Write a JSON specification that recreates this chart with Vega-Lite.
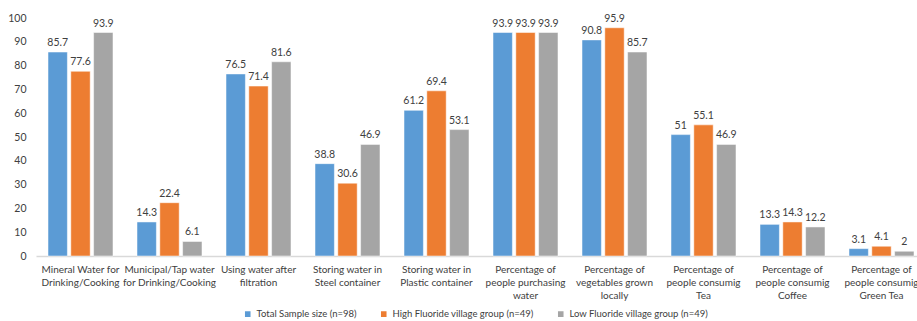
{
  "$schema": "https://vega.github.io/schema/vega-lite/v6.json",
  "width": 890,
  "height": 238,
  "autosize": "none",
  "padding": {"left": 36, "top": 18, "right": 0, "bottom": 65},
  "background": "white",
  "config": {
    "font": "Lato",
    "view": {"stroke": null},
    "axis": {"labelFont": "Lato", "labelColor": "#404040", "labelFontSize": 10.5}
  },
  "data": {
    "values": [
      {"cat": "Mineral Water for|Drinking/Cooking", "group": "Total Sample size (n=98)", "value": 85.7},
      {"cat": "Mineral Water for|Drinking/Cooking", "group": "High Fluoride village group (n=49)", "value": 77.6},
      {"cat": "Mineral Water for|Drinking/Cooking", "group": "Low Fluoride village group (n=49)", "value": 93.9},
      {"cat": "Municipal/Tap water|for Drinking/Cooking", "group": "Total Sample size (n=98)", "value": 14.3},
      {"cat": "Municipal/Tap water|for Drinking/Cooking", "group": "High Fluoride village group (n=49)", "value": 22.4},
      {"cat": "Municipal/Tap water|for Drinking/Cooking", "group": "Low Fluoride village group (n=49)", "value": 6.1},
      {"cat": "Using water after|filtration", "group": "Total Sample size (n=98)", "value": 76.5},
      {"cat": "Using water after|filtration", "group": "High Fluoride village group (n=49)", "value": 71.4},
      {"cat": "Using water after|filtration", "group": "Low Fluoride village group (n=49)", "value": 81.6},
      {"cat": "Storing water in|Steel container", "group": "Total Sample size (n=98)", "value": 38.8},
      {"cat": "Storing water in|Steel container", "group": "High Fluoride village group (n=49)", "value": 30.6},
      {"cat": "Storing water in|Steel container", "group": "Low Fluoride village group (n=49)", "value": 46.9},
      {"cat": "Storing water in|Plastic container", "group": "Total Sample size (n=98)", "value": 61.2},
      {"cat": "Storing water in|Plastic container", "group": "High Fluoride village group (n=49)", "value": 69.4},
      {"cat": "Storing water in|Plastic container", "group": "Low Fluoride village group (n=49)", "value": 53.1},
      {"cat": "Percentage of|people purchasing|water", "group": "Total Sample size (n=98)", "value": 93.9},
      {"cat": "Percentage of|people purchasing|water", "group": "High Fluoride village group (n=49)", "value": 93.9},
      {"cat": "Percentage of|people purchasing|water", "group": "Low Fluoride village group (n=49)", "value": 93.9},
      {"cat": "Percentage of|vegetables grown|locally", "group": "Total Sample size (n=98)", "value": 90.8},
      {"cat": "Percentage of|vegetables grown|locally", "group": "High Fluoride village group (n=49)", "value": 95.9},
      {"cat": "Percentage of|vegetables grown|locally", "group": "Low Fluoride village group (n=49)", "value": 85.7},
      {"cat": "Percentage of|people consumig|Tea", "group": "Total Sample size (n=98)", "value": 51},
      {"cat": "Percentage of|people consumig|Tea", "group": "High Fluoride village group (n=49)", "value": 55.1},
      {"cat": "Percentage of|people consumig|Tea", "group": "Low Fluoride village group (n=49)", "value": 46.9},
      {"cat": "Percentage of|people consumig|Coffee", "group": "Total Sample size (n=98)", "value": 13.3},
      {"cat": "Percentage of|people consumig|Coffee", "group": "High Fluoride village group (n=49)", "value": 14.3},
      {"cat": "Percentage of|people consumig|Coffee", "group": "Low Fluoride village group (n=49)", "value": 12.2},
      {"cat": "Percentage of|people consumig|Green Tea", "group": "Total Sample size (n=98)", "value": 3.1},
      {"cat": "Percentage of|people consumig|Green Tea", "group": "High Fluoride village group (n=49)", "value": 4.1},
      {"cat": "Percentage of|people consumig|Green Tea", "group": "Low Fluoride village group (n=49)", "value": 2}
    ]
  },
  "encoding": {
    "x": {
      "field": "cat", "type": "nominal", "sort": null, "title": null,
      "scale": {"paddingInner": 0.27, "paddingOuter": 0.135},
      "axis": {
        "labelExpr": "split(datum.label, '|')",
        "labelAngle": 0, "ticks": false, "domainColor": "#D9D9D9", "domainWidth": 1.5,
        "labelFontSize": 10, "labelPadding": 8, "labelLineHeight": 13, "labelLimit": 200
      }
    },
    "xOffset": {"field": "group", "type": "nominal", "sort": null, "scale": {"paddingInner": 0.15}},
    "y": {
      "field": "value", "type": "quantitative", "title": null,
      "scale": {"domain": [0, 100], "nice": false},
      "axis": {"values": [0,10,20,30,40,50,60,70,80,90,100], "grid": false, "domain": false, "ticks": false, "labelPadding": 10}
    }
  },
  "layer": [
    {
      "mark": {"type": "bar", "stroke": "white", "strokeWidth": 0.5},
      "encoding": {
        "color": {
          "field": "group", "type": "nominal", "sort": null,
          "scale": {"range": ["#5B9BD5", "#ED7D31", "#A5A5A5"]},
          "legend": {
            "title": null, "orient": "none", "direction": "horizontal",
            "legendX": 207, "legendY": 291, "symbolType": "square", "symbolSize": 50,
            "labelFont": "Lato", "labelFontSize": 9.5, "labelColor": "#404040",
            "columnPadding": 20, "labelLimit": 300, "labelOffset": 4
          }
        }
      }
    },
    {
      "mark": {"type": "text", "dy": -9, "font": "Lato", "fontSize": 10.5, "color": "#404040"},
      "encoding": {"text": {"field": "value", "type": "quantitative", "format": ".3~r"}}
    }
  ]
}
